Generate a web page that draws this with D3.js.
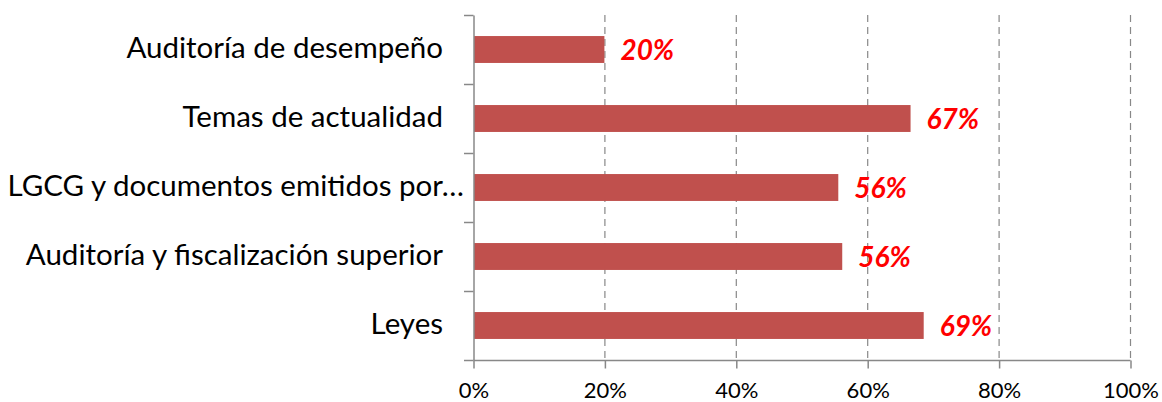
<!DOCTYPE html>
<html><head><meta charset="utf-8">
<script src="https://cdn.jsdelivr.net/npm/d3@7"></script>
<style>
html,body{margin:0;padding:0;background:#fff;}
svg{display:block;}
</style></head>
<body>
<svg id="chart" width="1162" height="402"></svg>
<script>
const categories = ["Auditoría de desempeño","Temas de actualidad","LGCG y documentos emitidos por…","Auditoría y fiscalización superior","Leyes"];
const values = [0.20, 0.666, 0.556, 0.562, 0.686];
const xTicks = [0, 0.2, 0.4, 0.6, 0.8, 1.0];

(function(){
const svg = d3.select("#chart");
const mLeft = 473, mRight = 1130, mTop = 15, mBottom = 360;
const x = d3.scaleLinear().domain([0,1]).range([mLeft,mRight]);
const y = d3.scaleBand().domain(categories).range([mTop,mBottom]).paddingInner(0.61).paddingOuter(0.305);
const yb = d3.scaleBand().domain(categories).range([mTop,mBottom]);
const axisColor = "#888888";
const font = "Lato, 'Open Sans', sans-serif";

// gridlines
svg.append("g").selectAll("line").data(xTicks.slice(1)).join("line")
  .attr("x1", d=>x(d)+0.5).attr("x2", d=>x(d)+0.5)
  .attr("y1", mTop).attr("y2", mBottom)
  .attr("stroke", axisColor).attr("stroke-width",1.2).attr("stroke-dasharray","7,5");

// bars
svg.append("g").selectAll("rect").data(values).join("rect")
  .attr("x", x(0)+1).attr("y",(d,i)=>y(categories[i]))
  .attr("width", d=>x(d)-x(0)-1).attr("height", y.bandwidth())
  .attr("fill","#C0504D");

// value labels
svg.append("g").selectAll("text").data(values).join("text")
  .attr("x", d=>x(d)+16).attr("y",(d,i)=>y(categories[i])+y.bandwidth()/2)
  .attr("dy","0.37em")
  .attr("font-family",font).attr("font-weight","bold").attr("font-style","italic")
  .attr("font-size",28).attr("fill","#FF0000")
  .text(d=>d3.format(".0%")(d));

// y axis
const yAxis = d3.axisLeft(yb).tickSize(0).tickFormat("");
const gy = svg.append("g").attr("transform",`translate(${mLeft+0.5},0)`).call(yAxis);
gy.select(".domain").attr("stroke",axisColor).attr("stroke-width",1.5);
const bounds = [mTop].concat(categories.map(c=>yb(c)+yb.bandwidth()));
svg.append("g").selectAll("line").data(bounds).join("line")
  .attr("x1",mLeft-9).attr("x2",mLeft+0.5).attr("y1",d=>d+0.5).attr("y2",d=>d+0.5)
  .attr("stroke",axisColor).attr("stroke-width",1.5);

// category labels
svg.append("g").selectAll("text").data(categories).join("text")
  .attr("x", d=> d.endsWith("…") ? 464 : 443)
  .attr("y", d=>yb(d)+yb.bandwidth()/2)
  .attr("dy","0.3em").attr("text-anchor","end")
  .attr("font-family",font).attr("font-size",29.5).attr("fill","#000")
  .text(d=>d);

// x axis
const xAxis = d3.axisBottom(x).tickValues(xTicks).tickSize(8).tickPadding(14).tickFormat(d3.format(".0%"));
const gx = svg.append("g").attr("transform",`translate(0.5,${mBottom+0.5})`).call(xAxis);
gx.select(".domain").attr("stroke",axisColor).attr("stroke-width",1.5).attr("d",`M${mLeft},0H${mRight}`);
gx.selectAll(".tick line").attr("stroke",axisColor).attr("stroke-width",1.5);
gx.selectAll(".tick text").attr("font-family",font).attr("font-size",22).attr("fill","#000");
})();
</script>
</body></html>
